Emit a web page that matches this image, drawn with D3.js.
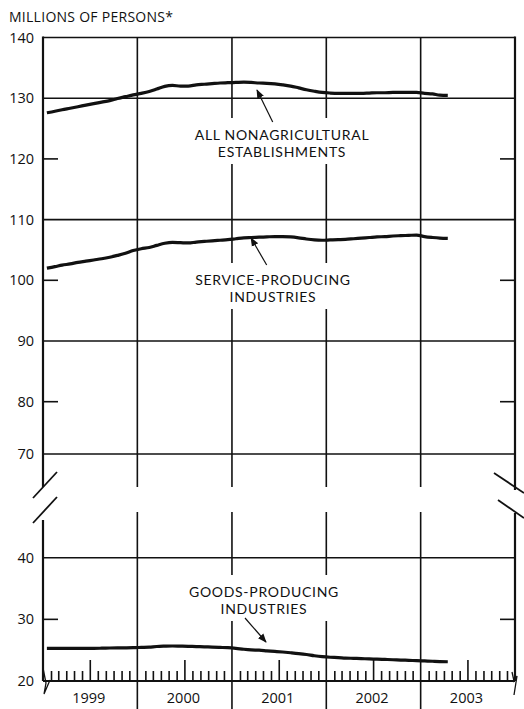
<!DOCTYPE html>
<html><head><meta charset="utf-8">
<script src="https://cdn.jsdelivr.net/npm/d3@7"></script>
<style>
body{margin:0;background:#fff}
svg text{font-family:'Open Sans',Lato,sans-serif;fill:#111}
</style>
</head><body><svg id="c" width="524" height="709"></svg>
<script>
// ---- data (monthly, Jan 1999 - Apr 2003), millions of persons ----
const nonag = [127.6,127.85,128.1,128.35,128.6,128.85,129.1,129.35,129.6,129.95,130.25,130.55,
  130.8,131.1,131.5,131.95,132.1,132.0,132.0,132.2,132.3,132.4,132.5,132.55,
  132.6,132.65,132.6,132.5,132.45,132.35,132.2,132.0,131.7,131.4,131.15,130.95,
  130.85,130.8,130.8,130.78,130.8,130.85,130.9,130.9,130.95,130.95,130.97,130.95,
  130.8,130.7,130.5,130.45];
const service = [102.0,102.25,102.5,102.7,102.95,103.15,103.35,103.55,103.8,104.1,104.45,104.9,
  105.2,105.4,105.75,106.1,106.25,106.2,106.15,106.3,106.4,106.5,106.6,106.7,
  106.85,107.0,107.05,107.1,107.15,107.2,107.2,107.15,107.0,106.8,106.65,106.6,
  106.65,106.7,106.75,106.85,106.95,107.05,107.15,107.2,107.3,107.35,107.4,107.45,
  107.2,107.05,106.95,106.9];
const goods = [25.3,25.3,25.3,25.3,25.3,25.3,25.3,25.32,25.35,25.37,25.38,25.4,
  25.45,25.5,25.6,25.65,25.68,25.65,25.62,25.58,25.55,25.5,25.45,25.4,
  25.3,25.15,25.05,25.0,24.9,24.8,24.7,24.58,24.45,24.3,24.1,23.95,
  23.85,23.8,23.72,23.68,23.64,23.58,23.55,23.5,23.45,23.4,23.35,23.3,
  23.25,23.2,23.15,23.12];
const years = [1999,2000,2001,2002,2003];
const upperTicks = [140,130,120,110,100,90,80,70];
const upperGrid = [130,110,90,70];
const upperShort = [120,100,80];
const lowerTicks = [40,30,20];
const lowerGrid = [40];
const lowerShort = [30];
const yTitle = "MILLIONS OF PERSONS*";
const labels = [
  {lines:["ALL NONAGRICULTURAL","ESTABLISHMENTS"], cx:282, y0:140},
  {lines:["SERVICE-PRODUCING","INDUSTRIES"], cx:273, y0:285},
  {lines:["GOODS-PRODUCING","INDUSTRIES"], cx:264, y0:597}
];

const svg = d3.select("#c");
const L = 43, R = 515;
const x = d3.scaleTime().domain([new Date(1999,0,1), new Date(2004,0,1)]).range([L, R]);
const yU = d3.scaleLinear().domain([70,80,140]).range([454,401.7,37.5]);
const yL = d3.scaleLinear().domain([20,40]).range([681,557.7]);
const upperBottom = 487, lowerTop = 512, lowerBottom = yL(20);
const dates = nonag.map((d,i)=>new Date(1999,i,16));

const g = svg.append("g");
const line = (x1,y1,x2,y2,w)=>g.append("line").attr("x1",x1).attr("y1",y1).attr("x2",x2).attr("y2",y2)
  .attr("stroke","#111").attr("stroke-width",w);

// title
svg.append("text").attr("x",9).attr("y",22).attr("font-size",14).attr("textLength",164).text(yTitle);

// horizontal grid (upper)
upperGrid.forEach(v=>line(L,yU(v),R,yU(v),1.6));
line(L,yU(140),R,yU(140),1.6);
upperShort.forEach(v=>{line(L,yU(v),L+15,yU(v),1.6);line(R-15,yU(v),R,yU(v),1.6);});
lowerGrid.forEach(v=>line(L,yL(v),R,yL(v),1.6));
lowerShort.forEach(v=>{line(L,yL(v),L+15,yL(v),1.6);line(R-15,yL(v),R,yL(v),1.6);});

// vertical year separators
years.slice(1).forEach(yr=>{
  const xx = x(new Date(yr,0,1));
  line(xx,yU(140),xx,upperBottom,1.6);
  line(xx,lowerTop,xx,709,1.6);
});

// axes frame
line(L,yU(140)-1,L,upperBottom,2.2);
line(L,520,L,lowerBottom,2.2);
line(R,yU(140)-1,R,490,2.2);
line(R,513,R,lowerBottom,2.2);
// break marks
line(33,498,57,472,1.8); line(33,523,57,497,1.8);
line(494,473,524,493,1.8); line(498,500,524,518,1.8);
g.append("path").attr("d","M43,668 L46,683 L44,694 L50,680").attr("fill","none").attr("stroke","#111").attr("stroke-width",1.3);
g.append("path").attr("d","M512,672 L514,681 L517,676 L514,695").attr("fill","none").attr("stroke","#111").attr("stroke-width",1.3);

// x axis with monthly ticks
const months = d3.timeMonth.range(new Date(1999,0,1), new Date(2004,0,1)).filter(d=>d.getMonth()!==0);
const xa = svg.append("g").attr("transform",`translate(0,${lowerBottom})`)
  .call(d3.axisTop(x).tickValues(months).tickSize(10).tickFormat(""));
xa.select(".domain").remove();
xa.selectAll(".tick line").attr("stroke","#111").attr("stroke-width",1.6)
  .attr("y2",d=>d.getMonth()===6?-21:-10);
line(L,lowerBottom,R,lowerBottom,2);
years.forEach(yr=>{
  svg.append("text").attr("x",x(new Date(yr,6,1))-1).attr("y",703).attr("text-anchor","middle")
    .attr("font-size",14.5).text(yr);
});

// y tick labels
const ya = svg.append("g").attr("transform",`translate(${L},0)`)
  .call(d3.axisLeft(yU).tickValues(upperTicks).tickSize(0).tickPadding(9).tickFormat(d3.format("d")));
const yb = svg.append("g").attr("transform",`translate(${L},0)`)
  .call(d3.axisLeft(yL).tickValues(lowerTicks).tickSize(0).tickPadding(9).tickFormat(d3.format("d")));
[ya,yb].forEach(a=>{a.select(".domain").remove();a.selectAll("text").attr("font-size",14.5).attr("fill","#111")
  .attr("font-family","'Open Sans',Lato,sans-serif");});

// labels with white backing
labels.forEach(lb=>{
  const t = svg.append("g");
  const nodes = lb.lines.map((s,i)=>t.append("text").attr("x",lb.cx).attr("y",lb.y0+i*17)
    .attr("text-anchor","middle").attr("font-size",14).attr("letter-spacing","0.7px")
    .style("font-family","Lato,'Open Sans',sans-serif").text(s));
  const bbs = nodes.map(n=>n.node().getBBox());
  const x0 = d3.min(bbs,b=>b.x), x1 = d3.max(bbs,b=>b.x+b.width);
  const y0 = d3.min(bbs,b=>b.y), y1 = d3.max(bbs,b=>b.y+b.height);
  t.insert("rect","text").attr("x",x0-4).attr("y",y0-8).attr("width",x1-x0+8).attr("height",y1-y0+12).attr("fill","#fff");
});

// data lines
const draw = (arr,ys)=>svg.append("path").datum(arr)
  .attr("d",d3.line().x((d,i)=>x(dates[i])).y(d=>ys(d)).curve(d3.curveMonotoneX))
  .attr("fill","none").attr("stroke","#111").attr("stroke-width",3.2).attr("stroke-linejoin","round");
draw(nonag,yU); draw(service,yU); draw(goods,yL);

// arrows
const defs = svg.append("defs");
defs.append("marker").attr("id","ah").attr("viewBox","0 0 10 10").attr("refX",9).attr("refY",5)
  .attr("markerWidth",9).attr("markerHeight",9).attr("markerUnits","userSpaceOnUse").attr("orient","auto")
  .append("path").attr("d","M0,1 L10,5 L0,9 Z").attr("fill","#111");
const arrows = [[272.7,122,257,90],[266.7,265,251,238],[245,618,266,642]];
arrows.forEach(a=>svg.append("line").attr("x1",a[0]).attr("y1",a[1]).attr("x2",a[2]).attr("y2",a[3])
  .attr("stroke","#111").attr("stroke-width",1.2).attr("marker-end","url(#ah)"));
</script></body></html>
